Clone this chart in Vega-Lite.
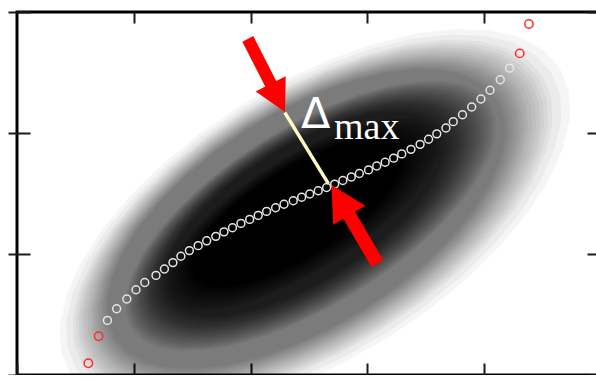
{
  "$schema": "https://vega.github.io/schema/vega-lite/v6.json",
  "width": 584,
  "height": 363,
  "autosize": {"type": "none"},
  "padding": {"left": 17, "top": 12, "right": 0, "bottom": 0},
  "background": "#ffffff",
  "config": {
    "view": {"stroke": "#000000", "strokeWidth": 3},
    "axis": {"labels": false, "domain": false, "grid": false, "tickColor": "#1a1a1a", "tickWidth": 2, "zindex": 2}
  },
  "datasets": {
    "density": [
      {"x": 2.551, "y": 1.272, "band": "rim", "r": 2.472},
      {"x": 2.541, "y": 1.274, "band": "rim", "r": 2.398},
      {"x": 2.530, "y": 1.277, "band": "rim", "r": 2.325},
      {"x": 2.525, "y": 1.278, "band": "rim", "r": 2.288},
      {"x": 2.520, "y": 1.279, "band": "rim", "r": 2.254},
      {"x": 2.516, "y": 1.280, "band": "rim", "r": 2.222},
      {"x": 2.511, "y": 1.281, "band": "rim", "r": 2.188},
      {"x": 2.506, "y": 1.282, "band": "rim", "r": 2.154},
      {"x": 2.501, "y": 1.283, "band": "rim", "r": 2.121},
      {"x": 2.498, "y": 1.284, "band": "rim", "r": 2.095},
      {"x": 2.494, "y": 1.284, "band": "rim", "r": 2.071},
      {"x": 2.491, "y": 1.285, "band": "rim", "r": 2.046},
      {"x": 2.488, "y": 1.286, "band": "rim", "r": 2.022},
      {"x": 2.484, "y": 1.287, "band": "rim", "r": 1.998},
      {"x": 2.481, "y": 1.288, "band": "rim", "r": 1.974},
      {"x": 2.478, "y": 1.288, "band": "rim", "r": 1.951},
      {"x": 2.474, "y": 1.289, "band": "rim", "r": 1.927},
      {"x": 2.514, "y": 1.316, "band": "mid", "r": 1.815},
      {"x": 2.512, "y": 1.316, "band": "mid", "r": 1.798},
      {"x": 2.509, "y": 1.317, "band": "mid", "r": 1.781},
      {"x": 2.507, "y": 1.317, "band": "mid", "r": 1.764},
      {"x": 2.504, "y": 1.318, "band": "mid", "r": 1.747},
      {"x": 2.501, "y": 1.318, "band": "mid", "r": 1.729},
      {"x": 2.499, "y": 1.319, "band": "mid", "r": 1.712},
      {"x": 2.496, "y": 1.320, "band": "mid", "r": 1.695},
      {"x": 2.494, "y": 1.320, "band": "mid", "r": 1.678},
      {"x": 2.491, "y": 1.321, "band": "mid", "r": 1.661},
      {"x": 2.489, "y": 1.321, "band": "mid", "r": 1.644},
      {"x": 2.486, "y": 1.322, "band": "mid", "r": 1.627},
      {"x": 2.484, "y": 1.322, "band": "mid", "r": 1.610},
      {"x": 2.482, "y": 1.323, "band": "mid", "r": 1.596},
      {"x": 2.479, "y": 1.323, "band": "mid", "r": 1.581},
      {"x": 2.477, "y": 1.324, "band": "mid", "r": 1.568},
      {"x": 2.475, "y": 1.324, "band": "mid", "r": 1.553},
      {"x": 2.473, "y": 1.325, "band": "mid", "r": 1.539},
      {"x": 2.471, "y": 1.325, "band": "mid", "r": 1.525},
      {"x": 2.469, "y": 1.326, "band": "mid", "r": 1.511},
      {"x": 2.467, "y": 1.326, "band": "mid", "r": 1.497},
      {"x": 2.465, "y": 1.327, "band": "mid", "r": 1.483},
      {"x": 2.463, "y": 1.327, "band": "mid", "r": 1.468},
      {"x": 2.461, "y": 1.327, "band": "mid", "r": 1.455},
      {"x": 2.459, "y": 1.328, "band": "mid", "r": 1.440},
      {"x": 2.457, "y": 1.328, "band": "mid", "r": 1.426},
      {"x": 2.454, "y": 1.329, "band": "mid", "r": 1.412},
      {"x": 2.452, "y": 1.329, "band": "mid", "r": 1.398},
      {"x": 2.450, "y": 1.330, "band": "mid", "r": 1.384},
      {"x": 2.448, "y": 1.330, "band": "mid", "r": 1.370},
      {"x": 2.446, "y": 1.331, "band": "core", "r": 1.356},
      {"x": 2.444, "y": 1.331, "band": "core", "r": 1.342},
      {"x": 2.442, "y": 1.332, "band": "core", "r": 1.329},
      {"x": 2.440, "y": 1.332, "band": "core", "r": 1.315},
      {"x": 2.438, "y": 1.332, "band": "core", "r": 1.301},
      {"x": 2.436, "y": 1.333, "band": "core", "r": 1.287},
      {"x": 2.434, "y": 1.333, "band": "core", "r": 1.273},
      {"x": 2.432, "y": 1.334, "band": "core", "r": 1.259},
      {"x": 2.429, "y": 1.334, "band": "core", "r": 1.246},
      {"x": 2.428, "y": 1.335, "band": "core", "r": 1.232},
      {"x": 2.426, "y": 1.335, "band": "core", "r": 1.218},
      {"x": 2.424, "y": 1.336, "band": "core", "r": 1.205},
      {"x": 2.422, "y": 1.336, "band": "core", "r": 1.191},
      {"x": 2.420, "y": 1.337, "band": "core", "r": 1.177},
      {"x": 2.418, "y": 1.337, "band": "core", "r": 1.164},
      {"x": 2.415, "y": 1.337, "band": "core", "r": 1.150},
      {"x": 2.413, "y": 1.338, "band": "core", "r": 1.136},
      {"x": 2.412, "y": 1.338, "band": "core", "r": 1.122},
      {"x": 2.410, "y": 1.339, "band": "core", "r": 1.109},
      {"x": 2.408, "y": 1.339, "band": "core", "r": 1.097},
      {"x": 2.406, "y": 1.340, "band": "core", "r": 1.084},
      {"x": 2.404, "y": 1.340, "band": "core", "r": 1.072},
      {"x": 2.402, "y": 1.340, "band": "core", "r": 1.059},
      {"x": 2.400, "y": 1.341, "band": "core", "r": 1.047},
      {"x": 2.398, "y": 1.341, "band": "core", "r": 1.035},
      {"x": 2.396, "y": 1.342, "band": "core", "r": 1.022},
      {"x": 2.395, "y": 1.342, "band": "core", "r": 1.010},
      {"x": 2.393, "y": 1.342, "band": "core", "r": 0.997},
      {"x": 2.391, "y": 1.343, "band": "core", "r": 0.985},
      {"x": 2.389, "y": 1.343, "band": "core", "r": 0.973},
      {"x": 2.388, "y": 1.344, "band": "core", "r": 0.961},
      {"x": 2.386, "y": 1.344, "band": "core", "r": 0.949},
      {"x": 2.384, "y": 1.344, "band": "core", "r": 0.936},
      {"x": 2.382, "y": 1.345, "band": "core", "r": 0.924},
      {"x": 2.380, "y": 1.345, "band": "core", "r": 0.911},
      {"x": 2.378, "y": 1.346, "band": "core", "r": 0.899},
      {"x": 2.377, "y": 1.346, "band": "core", "r": 0.887},
      {"x": 2.375, "y": 1.346, "band": "core", "r": 0.874},
      {"x": 2.373, "y": 1.347, "band": "core", "r": 0.862},
      {"x": 2.372, "y": 1.347, "band": "core", "r": 0.841},
      {"x": 2.372, "y": 1.347, "band": "core", "r": 0.813}
    ],
    "curve": [
      {"x": 0.774, "y": 0.451}, {"x": 0.853, "y": 0.548}, {"x": 0.940, "y": 0.628},
      {"x": 1.019, "y": 0.705}, {"x": 1.094, "y": 0.764}, {"x": 1.190, "y": 0.823},
      {"x": 1.262, "y": 0.876}, {"x": 1.335, "y": 0.929}, {"x": 1.403, "y": 0.981},
      {"x": 1.476, "y": 1.028}, {"x": 1.551, "y": 1.069}, {"x": 1.624, "y": 1.109},
      {"x": 1.702, "y": 1.146}, {"x": 1.772, "y": 1.183}, {"x": 1.845, "y": 1.217},
      {"x": 1.917, "y": 1.253}, {"x": 1.992, "y": 1.286}, {"x": 2.065, "y": 1.319},
      {"x": 2.137, "y": 1.352}, {"x": 2.214, "y": 1.382}, {"x": 2.286, "y": 1.411},
      {"x": 2.365, "y": 1.440}, {"x": 2.437, "y": 1.469}, {"x": 2.506, "y": 1.496},
      {"x": 2.579, "y": 1.523}, {"x": 2.651, "y": 1.550}, {"x": 2.720, "y": 1.578},
      {"x": 2.790, "y": 1.607}, {"x": 2.862, "y": 1.636}, {"x": 2.931, "y": 1.665},
      {"x": 3.010, "y": 1.695}, {"x": 3.080, "y": 1.727}, {"x": 3.152, "y": 1.758},
      {"x": 3.225, "y": 1.792}, {"x": 3.294, "y": 1.827}, {"x": 3.373, "y": 1.865},
      {"x": 3.451, "y": 1.906}, {"x": 3.524, "y": 1.948}, {"x": 3.594, "y": 1.993},
      {"x": 3.672, "y": 2.041}, {"x": 3.735, "y": 2.094}, {"x": 3.814, "y": 2.151},
      {"x": 3.893, "y": 2.215}, {"x": 3.972, "y": 2.281}, {"x": 4.050, "y": 2.353},
      {"x": 4.138, "y": 2.440}, {"x": 4.217, "y": 2.536}
    ],
    "ends": [
      {"x": 0.611, "y": 0.097}, {"x": 0.699, "y": 0.320},
      {"x": 4.304, "y": 2.658}, {"x": 4.383, "y": 2.901}
    ],
    "delta": [
      {"x": 2.293, "y": 2.169, "x2": 2.667, "y2": 1.579}
    ],
    "arrows": [
      {"end": "upper", "x": 2.295, "y": 2.174},
      {"end": "lower", "x": 2.693, "y": 1.570}
    ],
    "labels": [
      {"part": "Δ", "x": 2.432, "y": 2.039},
      {"part": "max", "x": 2.714, "y": 1.948}
    ]
  },
  "layer": [
    {
      "encoding": {
        "x": {
          "field": "x", "type": "quantitative",
          "scale": {"domain": [0, 5], "nice": false, "zero": false},
          "axis": {"orient": "bottom", "values": [0, 1, 2, 3, 4, 5], "offset": -12, "tickSize": 20, "title": null}
        },
        "y": {
          "field": "y", "type": "quantitative",
          "scale": {"domain": [0, 3], "nice": false, "zero": false},
          "axis": {"orient": "left", "values": [0, 1, 2, 3], "offset": -13, "tickSize": 22, "title": null}
        }
      },
      "layer": [
        {
          "data": {"name": "density"},
          "mark": {"type": "point", "filled": true, "color": "#000000", "opacity": 0.04, "angle": -32, "strokeWidth": 0, "clip": true},
          "encoding": {
            "size": {"field": "r", "type": "quantitative", "scale": {"type": "pow", "exponent": 2, "domain": [0, 3], "range": [0, 491117]}, "legend": null},
            "shape": {
              "field": "band", "type": "nominal", "legend": null,
              "scale": {
                "domain": ["rim", "mid", "core"],
                "range": [
                  "M1,0L0.985,0.083L0.94,0.163L0.866,0.238L0.766,0.306L0.643,0.365L0.5,0.412L0.342,0.447L0.174,0.469L0,0.476L-0.174,0.469L-0.342,0.447L-0.5,0.412L-0.643,0.365L-0.766,0.306L-0.866,0.238L-0.94,0.163L-0.985,0.083L-1,0L-0.985,-0.083L-0.94,-0.163L-0.866,-0.238L-0.766,-0.306L-0.643,-0.365L-0.5,-0.412L-0.342,-0.447L-0.174,-0.469L0,-0.476L0.174,-0.469L0.342,-0.447L0.5,-0.412L0.643,-0.365L0.766,-0.306L0.866,-0.238L0.94,-0.163L0.985,-0.083Z",
                  "M1,0L0.985,0.073L0.94,0.144L0.866,0.21L0.766,0.27L0.643,0.322L0.5,0.364L0.342,0.395L0.174,0.414L0,0.42L-0.174,0.414L-0.342,0.395L-0.5,0.364L-0.643,0.322L-0.766,0.27L-0.866,0.21L-0.94,0.144L-0.985,0.073L-1,0L-0.985,-0.073L-0.94,-0.144L-0.866,-0.21L-0.766,-0.27L-0.643,-0.322L-0.5,-0.364L-0.342,-0.395L-0.174,-0.414L0,-0.42L0.174,-0.414L0.342,-0.395L0.5,-0.364L0.643,-0.322L0.766,-0.27L0.866,-0.21L0.94,-0.144L0.985,-0.073Z",
                  "M1,0L0.985,0.063L0.94,0.123L0.866,0.18L0.766,0.231L0.643,0.276L0.5,0.312L0.342,0.338L0.174,0.355L0,0.36L-0.174,0.355L-0.342,0.338L-0.5,0.312L-0.643,0.276L-0.766,0.231L-0.866,0.18L-0.94,0.123L-0.985,0.063L-1,0L-0.985,-0.063L-0.94,-0.123L-0.866,-0.18L-0.766,-0.231L-0.643,-0.276L-0.5,-0.312L-0.342,-0.338L-0.174,-0.355L0,-0.36L0.174,-0.355L0.342,-0.338L0.5,-0.312L0.643,-0.276L0.766,-0.231L0.866,-0.18L0.94,-0.123L0.985,-0.063Z"
                ]
              }
            }
          }
        },
        {
          "data": {"name": "delta"},
          "mark": {"type": "rule", "color": "#fffbc4", "strokeWidth": 3.5},
          "encoding": {
            "x2": {"field": "x2"},
            "y2": {"field": "y2"}
          }
        },
        {
          "data": {"name": "curve"},
          "mark": {"type": "point", "filled": false, "color": "#e6e6e6", "size": 62, "strokeWidth": 1.5, "opacity": 1}
        },
        {
          "data": {"name": "ends"},
          "mark": {"type": "point", "filled": false, "color": "#ff2a2a", "size": 70, "strokeWidth": 1.5, "opacity": 1}
        },
        {
          "data": {"name": "arrows"},
          "transform": [{"filter": "datum.end === 'upper'"}],
          "mark": {"type": "point", "filled": true, "color": "#ff0000", "opacity": 1, "strokeWidth": 0, "angle": 63, "size": 6724,
                   "shape": "M0,0L-0.77,-0.41L-0.77,-0.15L-2,-0.15L-2,0.15L-0.77,0.15L-0.77,0.41Z"}
        },
        {
          "data": {"name": "arrows"},
          "transform": [{"filter": "datum.end === 'lower'"}],
          "mark": {"type": "point", "filled": true, "color": "#ff0000", "opacity": 1, "strokeWidth": 0, "angle": 239.7, "size": 8281,
                   "shape": "M0,0L-0.77,-0.41L-0.77,-0.15L-2,-0.15L-2,0.15L-0.77,0.15L-0.77,0.41Z"}
        },
        {
          "data": {"name": "labels"},
          "transform": [{"filter": "datum.part === 'Δ'"}],
          "mark": {"type": "text", "align": "left", "baseline": "alphabetic", "font": "DejaVu Sans", "fontSize": 43, "color": "#ffffff"},
          "encoding": {"text": {"field": "part"}}
        },
        {
          "data": {"name": "labels"},
          "transform": [{"filter": "datum.part === 'max'"}],
          "mark": {"type": "text", "align": "left", "baseline": "alphabetic", "font": "Liberation Serif", "fontSize": 38, "color": "#ffffff"},
          "encoding": {"text": {"field": "part"}}
        }
      ]
    },
    {
      "data": {"name": "curve"},
      "mark": {"type": "point", "opacity": 0},
      "encoding": {
        "x": {
          "field": "x", "type": "quantitative",
          "scale": {"domain": [0, 5], "nice": false, "zero": false},
          "axis": {"orient": "top", "values": [1, 2, 3, 4], "offset": -11, "tickSize": 11, "title": null}
        },
        "y": {
          "field": "y", "type": "quantitative",
          "scale": {"domain": [0, 3], "nice": false, "zero": false},
          "axis": {"orient": "right", "values": [0, 1, 2, 3], "offset": -14, "tickSize": 16, "title": null}
        }
      }
    }
  ],
  "resolve": {"axis": {"x": "independent", "y": "independent"}}
}
